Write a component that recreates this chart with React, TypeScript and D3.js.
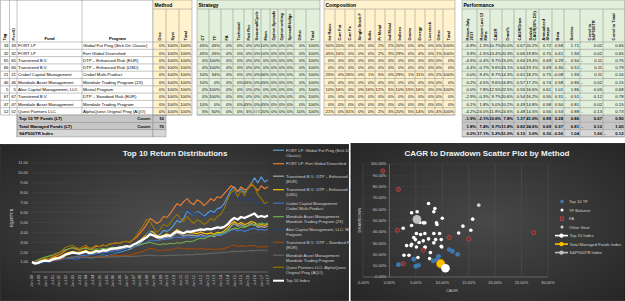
import * as d3 from "d3";

// dashboard: fund table on top, equity lines + CAGR/drawdown scatter below

const FONT = "'Liberation Sans', Arial, sans-serif";

// ---------- table data
const tags = ["33", "32", "65", "66", "21", "46", "5", "67", "47", "52"];
const peerIds = ["33", "32", "65", "66", "21", "46", "5", "67", "47", "52"];
const funds = [
  "FORT LP",
  "FORT LP",
  "Transtrend B.V.",
  "Transtrend B.V.",
  "Crabel Capital Management",
  "Mondiale Asset Management",
  "Alee Capital Management, LLC",
  "Transtrend B.V.",
  "Mondiale Asset Management",
  "Quest Partners LLC",
];
const programs = [
  "Global Fut Prog (Stck Dtr Classic)",
  "Fort Global Diversified",
  "DTP \u2013 Enhanced Risk (EUR)",
  "DTP \u2013 Enhanced Risk (USD)",
  "Crabel Multi-Product",
  "Mondiale Trading Program (2X)",
  "Mistral Program",
  "DTP \u2013 Standard Risk (EUR)",
  "Mondiale Trading Program",
  "AlphaQuest Original Prog (AQO)",
];

const methodHeaders = ["Disc", "Syst", "Total"];
const methodRows = Array.from({ length: 10 }, () => ["0%", "100%", "100%"]);

const strategyHeaders = ["CT", "TF", "FA", "Technical", "Patt Rec", "Seasonal/Cycle", "Mom", "Option Spreads", "Option writing", "Spread/Hedge", "Other", "Total"];
const strategyRows = [
  ["45%", "45%", "0%", "0%", "0%", "0%", "10%", "0%", "0%", "0%", "0%", "100%"],
  ["45%", "45%", "0%", "0%", "0%", "0%", "10%", "0%", "0%", "0%", "0%", "100%"],
  ["0%", "100%", "0%", "0%", "0%", "0%", "0%", "0%", "0%", "0%", "0%", "100%"],
  ["0%", "100%", "0%", "0%", "0%", "0%", "0%", "0%", "0%", "0%", "0%", "100%"],
  ["10%", "34%", "0%", "0%", "0%", "0%", "56%", "0%", "0%", "0%", "0%", "100%"],
  ["10%", "0%", "0%", "0%", "45%", "0%", "45%", "0%", "0%", "0%", "0%", "100%"],
  ["0%", "100%", "0%", "0%", "0%", "0%", "0%", "0%", "0%", "0%", "0%", "100%"],
  ["0%", "100%", "0%", "0%", "0%", "0%", "0%", "0%", "0%", "0%", "0%", "100%"],
  ["10%", "0%", "0%", "0%", "45%", "0%", "45%", "0%", "0%", "0%", "0%", "100%"],
  ["5%", "50%", "0%", "0%", "5%", "###", "20%", "0%", "0%", "0%", "10%", "100%"],
];

const compHeaders = ["Int Rates", "Curr Fut", "Curr Fx", "Single Stock F", "Softs", "Pr Metal", "Ind Metal", "Indices", "Grains", "Energy", "Livestock", "Other", "Total"];
const zeroComp = ["0%", "0%", "0%", "0%", "0%", "0%", "0%", "0%", "0%", "0%", "0%", "0%", "0%"];
const compRows = [
  ["50%", "20%", "0%", "0%", "0%", "2%", "2%", "20%", "0%", "6%", "0%", "0%", "100%"],
  ["45%", "16%", "0%", "0%", "0%", "2%", "3%", "29%", "0%", "4%", "0%", "1%", "100%"],
  zeroComp,
  zeroComp,
  ["25%", "0%", "26%", "0%", "1%", "5%", "0%", "29%", "1%", "11%", "0%", "2%", "100%"],
  zeroComp,
  ["10%", "16%", "0%", "0%", "16%", "12%", "5%", "10%", "15%", "16%", "0%", "0%", "100%"],
  zeroComp,
  zeroComp,
  ["21%", "0%", "31%", "0%", "0%", "2%", "3%", "20%", "5%", "14%", "0%", "4%", "100%"],
];

const perfHeaders = ["Return July\n2017", "Return Last 12\nMths", "CAGR", "Draw%", "CAGR/Draw", "Scaled\nCAGR(30% DD)", "Annualized\nSharpe", "Beta", "Sortino", "Correl to\nS&P500TR", "Correl to Total"];
const perfRows = [
  ["-6.9%", "-1.3%", "10.7%", "20.0%", "0.67", "20.2%", "0.72", "0.58", "1.71", "0.02", "0.66"],
  ["3.9%", "-1.5%", "13.4%", "20.3%", "0.66", "19.8%", "0.70", "0.61", "1.94", "0.02", "0.65"],
  ["-4.5%", "-0.4%", "9.7%", "15.0%", "0.65", "19.4%", "0.69", "0.29", "-0.50", "-0.11", "0.76"],
  ["-4.4%", "-0.7%", "9.6%", "15.1%", "0.64", "19.1%", "0.69", "0.30", "-0.51", "-0.11", "0.79"],
  ["0.0%", "-9.4%", "8.7%", "14.3%", "0.61", "18.2%", "0.75", "-0.08", "1.93", "-0.11", "0.16"],
  ["0.2%", "4.5%", "9.6%", "16.8%", "0.57", "17.2%", "0.74", "0.58", "0.86", "-0.02", "0.15"],
  ["0.0%", "7.8%", "12.5%", "22.5%", "0.55", "16.6%", "0.61", "1.01", "1.86", "-0.05", "0.68"],
  ["-2.9%", "-0.3%", "9.7%", "20.6%", "0.54", "16.2%", "0.55", "0.31", "-0.51", "-0.12", "0.78"],
  ["0.1%", "1.8%", "5.0%", "10.2%", "0.49", "14.8%", "0.58", "0.50", "0.81", "0.02", "0.15"],
  ["-4.2%", "-24.0%", "11.8%", "24.6%", "0.48", "14.5%", "0.56", "0.53", "0.88", "-0.13", "0.73"],
];
const summaryLabels = ["Top 10 TF Funds (LT)", "Total Managed Funds (LT)", "S&P500TR Index"];
const summaryCounts = ["10", "70", ""];
const summaryPerf = [
  ["-1.9%", "-2.1%", "10.6%", "7.8%", "1.37", "41.0%", "0.99", "0.28", "0.86", "0.07", "0.90"],
  ["1.8%", "7.4%", "9.7%", "11.8%", "0.82", "24.6%", "0.69", "0.37", "0.81", "-0.12", "1.00"],
  ["0.0%", "17.1%", "5.2%", "51.0%", "0.10", "3.0%", "0.30", "-0.56", "1.04", "1.00", "-0.12"],
];

// ---------- line chart data (quarterly, Jan-00 .. Jul-17)
const xTickLabels = [
  "Jan-00", "Jul-00", "Jan-01", "Jul-01", "Jan-02", "Jul-02", "Jan-03", "Jul-03", "Jan-04", "Jul-04",
  "Jan-05", "Jul-05", "Jan-06", "Jul-06", "Jan-07", "Jul-07", "Jan-08", "Jul-08", "Jan-09", "Jul-09",
  "Jan-10", "Jul-10", "Jan-11", "Jul-11", "Jan-12", "Jul-12", "Jan-13", "Jul-13", "Jan-14", "Jul-14",
  "Jan-15", "Jul-15", "Jan-16", "Jul-16", "Jan-17", "Jul-17",
];
const fortContrarian = [
  1.0, 0.9, 0.85, 0.95, 1.0, 1.05, 1.1, 1.15, 1.2, 1.25, 1.35, 1.3, 1.35, 1.3, 1.4, 1.45,
  1.5, 1.4, 1.45, 1.55, 1.6, 1.7, 1.65, 1.8, 1.85, 1.95, 2.0, 2.1, 2.2, 2.35, 2.5, 2.7,
  2.9, 3.2, 3.6, 4.1, 4.0, 3.7, 3.8, 4.2, 4.1, 4.3, 4.7, 5.2, 5.0, 5.4, 6.2, 5.9,
  5.7, 6.1, 5.9, 5.6, 5.9, 6.2, 6.0, 6.4, 6.5, 6.9, 7.6, 8.3, 8.6, 8.1, 8.4, 8.0,
  8.5, 8.9, 9.5, 9.0, 9.6, 9.1, 9.3,
];
const fortDiversified = [
  1.0, 0.95, 1.05, 1.2, 1.3, 1.25, 1.45, 1.6, 1.75, 1.9, 2.2, 2.35, 2.45, 2.3, 2.2, 2.35,
  2.5, 2.3, 2.4, 2.6, 2.55, 2.7, 2.65, 2.8, 2.85, 2.95, 2.9, 3.05, 3.1, 3.0, 3.25, 3.5,
  3.9, 4.3, 4.8, 5.4, 5.2, 4.9, 5.1, 5.6, 5.5, 5.9, 6.4, 6.9, 6.7, 7.1, 7.4, 7.0,
  6.8, 7.3, 7.1, 6.7, 7.0, 7.4, 7.2, 7.6, 7.5, 7.9, 8.3, 8.7, 8.5, 8.1, 8.6, 8.3,
  8.4, 8.8, 8.6, 8.2, 8.7, 8.4, 8.6,
];
const transtrendEnhEur = [
  1.0, 0.9, 1.0, 1.15, 1.2, 1.15, 1.3, 1.4, 1.45, 1.6, 1.8, 1.9, 2.0, 1.95, 1.9, 2.0,
  2.1, 1.9, 1.95, 2.1, 2.0, 2.1, 2.05, 2.2, 2.25, 2.3, 2.2, 2.35, 2.4, 2.3, 2.5, 2.7,
  2.9, 3.2, 3.5, 3.9, 3.7, 3.4, 3.3, 3.4, 3.5, 3.4, 3.7, 3.95, 3.8, 3.6, 3.75, 3.7,
  3.7, 3.6, 3.8, 3.65, 3.6, 3.7, 3.55, 3.75, 3.7, 3.9, 4.2, 4.6, 4.9, 4.6, 4.8, 4.6,
  4.7, 4.9, 4.8, 4.5, 4.6, 4.5, 4.65,
];
const transtrendEnhUsd = [
  1.0, 0.92, 1.02, 1.18, 1.22, 1.18, 1.34, 1.45, 1.5, 1.66, 1.86, 1.98, 2.08, 2.02, 1.98, 2.08,
  2.2, 2.0, 2.05, 2.22, 2.12, 2.22, 2.18, 2.34, 2.4, 2.46, 2.36, 2.52, 2.58, 2.48, 2.7, 2.92,
  3.15, 3.5, 3.8, 4.2, 4.0, 3.7, 3.6, 3.7, 3.85, 3.7, 4.0, 4.3, 4.1, 3.9, 4.05, 3.95,
  3.95, 3.85, 4.05, 3.9, 3.85, 3.95, 3.8, 4.0, 3.95, 4.15, 4.45, 4.85, 5.1, 4.8, 5.0, 4.8,
  4.9, 5.1, 5.0, 4.7, 4.8, 4.7, 4.85,
];
const crabelMulti = [
  1.0, 0.95, 1.0, 1.05, 1.1, 1.15, 1.2, 1.25, 1.3, 1.35, 1.4, 1.45, 1.5, 1.55, 1.6, 1.65,
  1.7, 1.72, 1.78, 1.85, 1.9, 1.95, 2.0, 2.05, 2.1, 2.15, 2.2, 2.3, 2.35, 2.4, 2.5, 2.6,
  2.7, 2.85, 3.0, 3.2, 3.2, 3.15, 3.2, 3.3, 3.3, 3.35, 3.45, 3.55, 3.5, 3.45, 3.55, 3.5,
  3.5, 3.55, 3.6, 3.55, 3.6, 3.65, 3.7, 3.75, 3.75, 3.85, 4.0, 4.2, 4.3, 4.15, 4.25, 4.1,
  4.2, 4.35, 4.4, 4.25, 4.3, 4.2, 4.3,
];
const mondiale2x = [
  1.0, 1.1, 1.25, 1.4, 1.5, 1.6, 1.7, 1.85, 1.95, 2.1, 2.25, 2.35, 2.45, 2.4, 2.3, 2.35,
  2.4, 2.3, 2.25, 2.35, 2.3, 2.4, 2.35, 2.45, 2.5, 2.45, 2.55, 2.6, 2.65, 2.55, 2.6, 2.7,
  2.75, 2.85, 2.9, 3.0, 2.9, 2.8, 2.75, 2.85, 2.8, 2.9, 2.85, 2.95, 2.9, 3.0, 3.1, 3.05,
  3.15, 3.3, 3.4, 3.35, 3.5, 3.65, 3.75, 3.85, 3.9, 4.0, 4.15, 4.3, 4.45, 4.35, 4.55, 4.5,
  4.65, 4.8, 4.7, 4.85, 4.95, 4.85, 4.95,
];
const aleeMistral = [
  1.0, 0.85, 0.8, 0.9, 0.95, 1.0, 1.05, 1.1, 1.15, 1.2, 1.3, 1.25, 1.3, 1.35, 1.3, 1.4,
  1.45, 1.4, 1.5, 1.55, 1.6, 1.65, 1.75, 1.8, 1.9, 2.0, 2.1, 2.2, 2.3, 2.45, 2.6, 2.8,
  3.0, 3.3, 3.7, 4.2, 4.4, 4.1, 4.3, 4.6, 4.5, 4.8, 5.2, 5.6, 5.4, 5.8, 6.3, 6.0,
  5.7, 6.0, 5.8, 5.5, 5.7, 6.0, 5.8, 6.2, 6.3, 6.6, 7.2, 7.8, 8.0, 7.4, 7.6, 7.2,
  7.3, 7.5, 7.1, 6.8, 7.0, 6.8, 6.9,
];
const transtrendStdEur = [
  1.0, 0.95, 1.0, 1.08, 1.1, 1.08, 1.15, 1.2, 1.22, 1.3, 1.4, 1.45, 1.5, 1.48, 1.45, 1.5,
  1.55, 1.48, 1.5, 1.56, 1.52, 1.58, 1.56, 1.62, 1.65, 1.68, 1.64, 1.7, 1.72, 1.68, 1.78, 1.88,
  1.98, 2.1, 2.22, 2.4, 2.32, 2.2, 2.15, 2.2, 2.25, 2.2, 2.32, 2.45, 2.4, 2.32, 2.38, 2.35,
  2.35, 2.3, 2.38, 2.32, 2.28, 2.32, 2.26, 2.32, 2.3, 2.38, 2.48, 2.62, 2.72, 2.58, 2.66, 2.58,
  2.62, 2.68, 2.65, 2.52, 2.56, 2.52, 2.58,
];
const mondialeStd = [
  1.0, 1.05, 1.1, 1.15, 1.18, 1.22, 1.25, 1.3, 1.34, 1.38, 1.42, 1.45, 1.48, 1.47, 1.45, 1.47,
  1.48, 1.46, 1.45, 1.48, 1.47, 1.5, 1.49, 1.52, 1.53, 1.52, 1.55, 1.57, 1.58, 1.55, 1.57, 1.6,
  1.62, 1.66, 1.68, 1.72, 1.68, 1.65, 1.64, 1.67, 1.66, 1.69, 1.68, 1.71, 1.7, 1.72, 1.75, 1.73,
  1.76, 1.8, 1.82, 1.81, 1.85, 1.88, 1.9, 1.93, 1.95, 1.98, 2.02, 2.07, 2.1, 2.07, 2.12, 2.11,
  2.14, 2.18, 2.16, 2.19, 2.22, 2.19, 2.22,
];
const questAqo = [
  1.0, 0.95, 1.1, 1.3, 1.4, 1.35, 1.6, 1.8, 1.95, 2.2, 2.5, 2.6, 2.7, 2.5, 2.35, 2.55,
  2.7, 2.4, 2.5, 2.7, 2.55, 2.75, 2.6, 2.85, 2.9, 3.0, 2.85, 3.05, 3.1, 2.95, 3.3, 3.7,
  4.2, 4.7, 5.3, 5.1, 4.5, 4.0, 4.3, 4.8, 4.6, 4.9, 5.4, 5.8, 5.4, 5.1, 5.6, 5.2,
  4.9, 5.3, 5.1, 4.8, 5.0, 5.4, 5.2, 5.6, 5.8, 6.4, 7.3, 8.0, 8.3, 7.6, 8.2, 7.7,
  8.4, 9.0, 8.6, 7.8, 7.4, 6.9, 7.1,
];
const top10Index = [
  1.0, 0.85, 0.95, 1.1, 1.15, 1.1, 1.25, 1.35, 1.4, 1.55, 1.75, 1.85, 1.95, 1.9, 1.85, 1.95,
  2.05, 1.9, 1.95, 2.1, 2.05, 2.2, 2.15, 2.3, 2.35, 2.4, 2.45, 2.5, 2.6, 2.55, 2.75, 2.9,
  3.1, 3.3, 3.5, 3.8, 3.7, 3.55, 3.5, 3.6, 3.7, 3.65, 3.9, 4.1, 4.0, 3.9, 4.1, 4.05,
  4.15, 4.2, 4.3, 4.25, 4.35, 4.3, 4.4, 4.5, 4.45, 4.55, 4.8, 5.2, 5.45, 5.3, 5.55, 5.45,
  5.6, 5.75, 5.9, 5.55, 5.65, 5.55, 5.7,
];

const lineSeries = [
  { name: "FORT LP: Global Fut Prog (Stck Dtr\nClassic)", values: fortContrarian, color: "#5B9BD5" },
  { name: "FORT LP: Fort Global Diversified", values: fortDiversified, color: "#ED7D31" },
  { name: "Transtrend B.V.: DTP \u2013 Enhanced Risk\n(EUR)", values: transtrendEnhEur, color: "#A5A5A5" },
  { name: "Transtrend B.V.: DTP \u2013 Enhanced Risk\n(USD)", values: transtrendEnhUsd, color: "#FFC000" },
  { name: "Crabel Capital Management:\nCrabel Multi-Product", values: crabelMulti, color: "#4472C4" },
  { name: "Mondiale Asset Management:\nMondiale Trading Program (2X)", values: mondiale2x, color: "#70AD47" },
  { name: "Alee Capital Management, LLC: Mistral\nProgram", values: aleeMistral, color: "#264478" },
  { name: "Transtrend B.V.: DTP \u2013 Standard Risk\n(EUR)", values: transtrendStdEur, color: "#9E480E" },
  { name: "Mondiale Asset Management:\nMondiale Trading Program", values: mondialeStd, color: "#636363" },
  { name: "Quest Partners LLC: AlphaQuest\nOriginal Prog (AQO)", values: questAqo, color: "#997300" },
  { name: "Top 10 Index", values: top10Index, color: "#FFFFFF" },
];

// ---------- scatter data: [CAGR %, drawdown %]
const top10TF = [[1.7, 10.9], [5.0, 9.5], [5.5, 10.3], [4.6, 15.7], [8.3, 14.2], [9.0, 15.4], [9.3, 18.3], [11.3, 24.3], [11.9, 22.8], [12.9, 20.1]];
const tfBalance = [
  [7.4, 65], [8.6, 60.6], [8.4, 57.7], [4.2, 56.8], [5.25, 57.7], [5.75, 48.2], [6.4, 47.9], [6.7, 47.9],
  [8.9, 47.9], [9.0, 46.4], [10.0, 52], [2.6, 43.2], [4.2, 45.6], [15.75, 51.2], [13.9, 45], [15.4, 41.4],
  [5.1, 38.5], [5.9, 37.6], [6.7, 38.5], [8.4, 38.5], [9.5, 38.5], [13.1, 39], [4.6, 34.9], [4.9, 33.1],
  [7.4, 33.7], [8.75, 33.1], [9.8, 33.1], [4.2, 29], [5.6, 30.5], [6.4, 32], [3.25, 27.8], [4.1, 27.8],
  [5.1, 26.6], [6.7, 26], [8.4, 30.2], [9.8, 27.2], [2.75, 19.2], [3.7, 19.2], [5.4, 17.2], [7.75, 21.6],
  [7.6, 16.3], [6.75, 26.6], [9.9, 26.6],
];
const faFunds = [[-1.25, 93.8], [1.7, 77.5], [1.5, 41.4], [2.6, 11.8], [6.4, 23.7], [11.3, 35], [15.0, 33.7], [27.3, 39.3]];
const otherStrat = [[16.9, 63.6]];
const top10Pt = [10.6, 7.8];
const totalManagedPt = [9.7, 11.8];
const sp500Pt = [5.2, 51.0];

// ---------- table
const ROW_Y0 = 42;
const ROW_H = 7.3;
const LINE = "#8a8a8a";
const FS = 4.2;
const rowTop = (i: number) => ROW_Y0 + i * ROW_H;

type BlockProps = {
  x: number;
  widths: number[];
  fill: string;
  title: string;
  headers: string[];
  rows: string[][];
  summary?: string[][];
};

const cellText = (v: string, x0: number, x1: number, y: number, bold = false, key?: string) => {
  const isPct = v.endsWith("%") || v === "###";
  if (!isPct && v.startsWith("-")) {
    return (
      <g key={key}>
        <text x={x0 + 1.2} y={y} fontSize={FS} fontWeight={bold ? "bold" : "normal"}>-</text>
        <text x={x1 - 1} y={y} fontSize={FS} textAnchor="end" fontWeight={bold ? "bold" : "normal"}>{v.slice(1)}</text>
      </g>
    );
  }
  return (
    <text key={key} x={x1 - 1} y={y} fontSize={FS} textAnchor="end" fontWeight={bold ? "bold" : "normal"}>
      {v}
    </text>
  );
};

const Block = ({ x, widths, fill, title, headers, rows, summary }: BlockProps) => {
  const edges = [x];
  widths.forEach((w) => edges.push(edges[edges.length - 1] + w));
  const right = edges[edges.length - 1];
  const dataBottom = rowTop(rows.length);
  const bottom = summary ? rowTop(rows.length + summary.length) : dataBottom;
  return (
    <g>
      <rect x={x} y={0} width={right - x} height={dataBottom} fill={fill} />
      {summary &&
        summary.map((_, i) => (
          <rect key={i} x={x} y={rowTop(rows.length + i)} width={right - x} height={ROW_H} fill={i === 2 ? "#D6D6D6" : "#C6C6C6"} />
        ))}
      <rect x={x} y={0} width={right - x} height={bottom} fill="none" stroke={LINE} strokeWidth={0.5} />
      <line x1={x} x2={right} y1={9} y2={9} stroke={LINE} strokeWidth={0.5} />
      <text x={x + 1.5} y={6.8} fontSize={5} fontWeight="bold">{title}</text>
      {edges.slice(1, -1).map((ex, i) => (
        <line key={i} x1={ex} x2={ex} y1={9} y2={bottom} stroke={LINE} strokeWidth={0.5} />
      ))}
      {d3.range(rows.length + (summary ? summary.length : 0) + 1).map((i) => (
        <line key={i} x1={x} x2={right} y1={rowTop(i)} y2={rowTop(i)} stroke={LINE} strokeWidth={0.5} />
      ))}
      {headers.map((h, i) => {
        const cx = (edges[i] + edges[i + 1]) / 2;
        const parts = h.split("\n");
        return (
          <g key={i}>
            {parts.map((p, j) => {
              const bx = parts.length === 1 ? cx + 1.4 : cx - 0.9 + j * 4.4;
              return (
                <text key={j} transform={`translate(${bx},40.5) rotate(-90)`} fontSize={4} fontWeight="bold">
                  {p}
                </text>
              );
            })}
          </g>
        );
      })}
      {rows.map((r, ri) =>
        r.map((v, ci) => cellText(v, edges[ci], edges[ci + 1], rowTop(ri) + 5.2, false, `${ri}-${ci}`))
      )}
      {summary &&
        summary.map((r, ri) =>
          r.map((v, ci) => cellText(v, edges[ci], edges[ci + 1], rowTop(rows.length + ri) + 5.2, true, `s${ri}-${ci}`))
        )}
    </g>
  );
};

const Table = () => {
  const leftEdges = [0.5, 9.5, 17, 82, 153];
  const n = tags.length;
  const dataBottom = rowTop(n);
  const sumBottom = rowTop(n + 3);
  return (
    <g fontFamily={FONT} fill="#000">
      {/* left columns */}
      {leftEdges.map((ex, i) => (
        <line key={i} x1={ex} x2={ex} y1={0} y2={dataBottom} stroke={LINE} strokeWidth={0.5} />
      ))}
      {d3.range(n + 1).map((i) => (
        <line key={i} x1={0.5} x2={153} y1={rowTop(i)} y2={rowTop(i)} stroke={LINE} strokeWidth={0.5} />
      ))}
      <line x1={0.5} x2={153} y1={0.3} y2={0.3} stroke={LINE} strokeWidth={0.5} />
      <text transform="translate(6.4,40.5) rotate(-90)" fontSize={4} fontWeight="bold">Tag</text>
      <text transform="translate(14.6,40.5) rotate(-90)" fontSize={4} fontWeight="bold">PeerID</text>
      <text x={49.5} y={40} fontSize={4.2} fontWeight="bold" textAnchor="middle">Fund</text>
      <text x={117.5} y={40} fontSize={4.2} fontWeight="bold" textAnchor="middle">Program</text>
      {tags.map((t, i) => (
        <g key={i} fontSize={4.3}>
          <text x={8.5} y={rowTop(i) + 5.2} textAnchor="end">{t}</text>
          <text x={16} y={rowTop(i) + 5.2} textAnchor="end">{peerIds[i]}</text>
          <text x={18} y={rowTop(i) + 5.2}>{funds[i]}</text>
          <text x={83} y={rowTop(i) + 5.2}>{programs[i]}</text>
        </g>
      ))}
      {/* summary labels */}
      {summaryLabels.map((s, i) => (
        <g key={i}>
          <rect x={17} y={rowTop(n + i)} width={136} height={ROW_H} fill={i === 2 ? "#D6D6D6" : "#C6C6C6"} stroke={LINE} strokeWidth={0.5} />
          <rect x={153} y={rowTop(n + i)} width={13} height={ROW_H} fill={i === 2 ? "#D6D6D6" : "#C6C6C6"} stroke={LINE} strokeWidth={0.5} />
          <text x={19} y={rowTop(n + i) + 5.2} fontSize={4.3} fontWeight="bold">{s}</text>
          {summaryCounts[i] && (
            <>
              <text x={151} y={rowTop(n + i) + 5.2} fontSize={4.3} fontWeight="bold" textAnchor="end">Count:</text>
              <text x={164} y={rowTop(n + i) + 5.2} fontSize={4.3} fontWeight="bold" textAnchor="end">{summaryCounts[i]}</text>
            </>
          )}
        </g>
      ))}
      <line x1={17} x2={17} y1={dataBottom} y2={sumBottom} stroke={LINE} strokeWidth={0.5} />
      <Block x={153} widths={[13, 13, 13]} fill="#FFF2CC" title="Method" headers={methodHeaders} rows={methodRows} />
      <Block x={197} widths={[12, 12, 12, 11, 9, 8, 9, 8, 8, 8, 12, 14]} fill="#E2EFDA" title="Strategy" headers={strategyHeaders} rows={strategyRows} />
      <Block x={324} widths={[11, 10, 10, 10, 10, 10, 10, 10, 10, 10, 10, 8, 12]} fill="#FFF2CC" title="Composition" headers={compHeaders} rows={compRows} />
      <Block x={462} widths={[15, 13, 12, 12, 12, 13, 13, 12, 16, 23, 21.5]} fill="#E2EFDA" title="Performance" headers={perfHeaders} rows={perfRows} summary={summaryPerf} />
    </g>
  );
};

// ---------- line chart
const LineChart = () => {
  const x = d3.scaleLinear().domain([0, 70]).range([32, 268]);
  const y = d3.scaleLinear().domain([0, 11]).range([272, 163]);
  const line = d3
    .line<number>()
    .x((_, i) => x(i))
    .y((d) => y(d));
  const legendY = [151.5, 165, 177.5, 191, 204.5, 218, 231, 243.5, 256.5, 268.5, 282];
  return (
    <g fontFamily={FONT}>
      <defs>
        <radialGradient id="bgL" cx="50%" cy="50%" r="70%">
          <stop offset="0%" stopColor="#4E4E4E" />
          <stop offset="100%" stopColor="#262626" />
        </radialGradient>
        <radialGradient id="bgR" cx="50%" cy="50%" r="70%">
          <stop offset="0%" stopColor="#484848" />
          <stop offset="100%" stopColor="#262626" />
        </radialGradient>
      </defs>
      <rect x={0.5} y={144.5} width={348} height={156} fill="url(#bgL)" stroke="#1a1a1a" strokeWidth={0.8} />
      <text x={175} y={156} textAnchor="middle" fontSize={8} fontWeight="bold" fill="#F2F2F2">
        Top 10 Return Distributions
      </text>
      {d3.range(1, 12).map((t) => (
        <g key={t}>
          <line x1={32} x2={268} y1={y(t)} y2={y(t)} stroke="#555" strokeWidth={0.3} />
          <text x={28} y={y(t) + 1.4} textAnchor="end" fontSize={4} fill="#C8C8C8">{t.toFixed(2)}</text>
        </g>
      ))}
      <line x1={32} x2={268} y1={y(0)} y2={y(0)} stroke="#8a8a8a" strokeWidth={0.6} />
      {xTickLabels.map((l, i) => (
        <text key={l} transform={`translate(${x(i * 2) + 1.4},275) rotate(-90)`} textAnchor="end" fontSize={3.8} fill="#C8C8C8">
          {l}
        </text>
      ))}
      <text transform="translate(13,218) rotate(-90)" textAnchor="middle" fontSize={4} fontWeight="bold" fill="#C8C8C8">
        EQUITY $
      </text>
      {lineSeries.map((s, i) => (
        <path
          key={s.name}
          d={line(s.values) || ""}
          fill="none"
          stroke={s.color}
          strokeWidth={i === lineSeries.length - 1 ? 2.3 : 1.15}
          strokeLinejoin="round"
        />
      ))}
      {lineSeries.map((s, i) => (
        <g key={s.name}>
          <line x1={273} x2={284} y1={legendY[i] - 1.3} y2={legendY[i] - 1.3} stroke={s.color} strokeWidth={i === lineSeries.length - 1 ? 2 : 1.2} />
          {s.name.split("\n").map((p, j) => (
            <text key={j} x={286} y={legendY[i] + j * 5} fontSize={4.1} fill="#D0D0D0">
              {p}
            </text>
          ))}
        </g>
      ))}
    </g>
  );
};

// ---------- scatter
const ScatterChart = () => {
  const x = d3.scaleLinear().domain([-5, 30]).range([363, 548]);
  const y = d3.scaleLinear().domain([0, 100]).range([277, 164]);
  const legendY = [203, 211.5, 220, 228.5, 237, 245.5, 254];
  return (
    <g fontFamily={FONT}>
      <rect x={351} y={143.5} width={274} height={157} fill="url(#bgR)" stroke="#1a1a1a" strokeWidth={0.8} />
      <text x={487} y={156} textAnchor="middle" fontSize={8} fontWeight="bold" fill="#F2F2F2">
        CAGR to Drawdown Scatter Plot by Method
      </text>
      {d3.range(-5, 31, 5).map((t) => (
        <g key={t}>
          <line x1={x(t)} x2={x(t)} y1={y(100)} y2={y(0)} stroke="#5c5c5c" strokeWidth={0.4} />
          <text x={x(t)} y={284} textAnchor="middle" fontSize={4} fill="#C8C8C8">{`${t.toFixed(2)}%`}</text>
        </g>
      ))}
      {d3.range(0, 101, 10).map((t) => (
        <g key={t}>
          <line x1={x(-5)} x2={x(30)} y1={y(t)} y2={y(t)} stroke="#4c4c4c" strokeWidth={0.3} />
          <text x={x(0) - 3} y={y(t) + 1.4} textAnchor="end" fontSize={4} fill="#C8C8C8">{`${t.toFixed(2)}%`}</text>
        </g>
      ))}
      <line x1={x(0)} x2={x(0)} y1={y(100)} y2={y(0)} stroke="#8a8a8a" strokeWidth={0.5} />
      <line x1={x(-5)} x2={x(30)} y1={y(0)} y2={y(0)} stroke="#8a8a8a" strokeWidth={0.5} />
      <text transform="translate(361,220) rotate(-90)" textAnchor="middle" fontSize={4} fill="#C8C8C8">DRAWDOWN</text>
      <text x={452} y={292} textAnchor="middle" fontSize={4} fill="#C8C8C8">CAGR</text>

      {tfBalance.map((d, i) => (
        <circle key={`b${i}`} cx={x(d[0])} cy={y(d[1])} r={1.8} fill="#FFFFFF" />
      ))}
      {otherStrat.map((d, i) => (
        <circle key={`o${i}`} cx={x(d[0])} cy={y(d[1])} r={1.8} fill="#D0D0D0" />
      ))}
      {faFunds.map((d, i) => (
        <circle key={`f${i}`} cx={x(d[0])} cy={y(d[1])} r={2.1} fill="#7A2E2B" stroke="#C0504D" strokeWidth={0.7} />
      ))}
      {top10TF.map((d, i) => (
        <circle key={`t${i}`} cx={x(d[0])} cy={y(d[1])} r={2.4} fill="#3E78B3" />
      ))}
      <circle cx={x(sp500Pt[0])} cy={y(sp500Pt[1])} r={4.3} fill="#BFBFBF" />
      <circle cx={x(totalManagedPt[0])} cy={y(totalManagedPt[1])} r={4.3} fill="#FFC000" stroke="#C98A00" strokeWidth={0.5} />
      <circle cx={x(top10Pt[0])} cy={y(top10Pt[1])} r={4.3} fill="#FFFFFF" />

      {/* legend */}
      <circle cx={562} cy={legendY[0] - 1.4} r={1.8} fill="#3E78B3" />
      <text x={569} y={legendY[0]} fontSize={4.2} fill="#D0D0D0">Top 10 TF</text>
      <circle cx={562} cy={legendY[1] - 1.4} r={1.5} fill="#FFFFFF" />
      <text x={569} y={legendY[1]} fontSize={4.2} fill="#D0D0D0">TF Balance</text>
      <rect x={560.3} y={legendY[2] - 3.1} width={3.4} height={3.4} fill="#7A2E2B" stroke="#C0504D" strokeWidth={0.6} />
      <text x={569} y={legendY[2]} fontSize={4.2} fill="#D0D0D0">FA</text>
      <circle cx={562} cy={legendY[3] - 1.4} r={1.5} fill="#D0D0D0" />
      <text x={569} y={legendY[3]} fontSize={4.2} fill="#D0D0D0">Other Strat</text>
      {[
        { label: "Top 10 Index", color: "#FFFFFF" },
        { label: "Total Managed Funds Index", color: "#FFC000" },
        { label: "S&P500TR Index", color: "#BFBFBF" },
      ].map((e, i) => (
        <g key={e.label}>
          <line x1={555} x2={568} y1={legendY[4 + i] - 1.4} y2={legendY[4 + i] - 1.4} stroke={e.color} strokeWidth={1.6} />
          <circle cx={561.5} cy={legendY[4 + i] - 1.4} r={2.2} fill={e.color} />
          <text x={569.5} y={legendY[4 + i]} fontSize={4.2} fill="#D0D0D0">{e.label}</text>
        </g>
      ))}
    </g>
  );
};

export default function App() {
  return (
    <svg width={625} height={301} style={{ position: "absolute", left: 0, top: 0, background: "#FFFFFF" }}>
      <Table />
      <LineChart />
      <ScatterChart />
    </svg>
  );
}
